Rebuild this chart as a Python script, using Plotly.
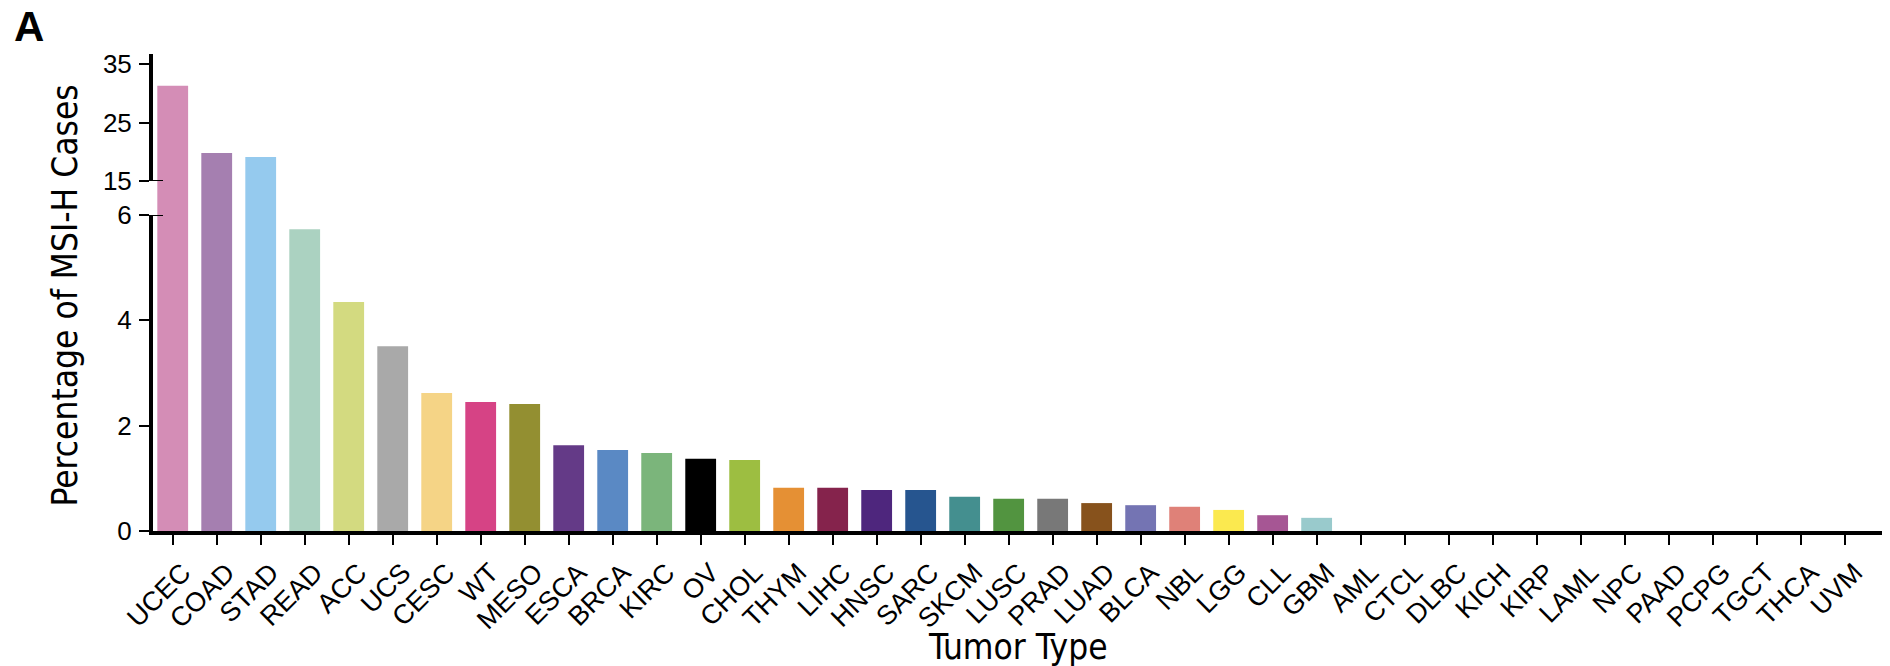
import plotly.graph_objects as go

# ---------------- data ----------------
tumor_types = ["UCEC", "COAD", "STAD", "READ", "ACC", "UCS", "CESC", "WT", "MESO",
               "ESCA", "BRCA", "KIRC", "OV", "CHOL", "THYM", "LIHC", "HNSC", "SARC",
               "SKCM", "LUSC", "PRAD", "LUAD", "BLCA", "NBL", "LGG", "CLL", "GBM",
               "AML", "CTCL", "DLBC", "KICH", "KIRP", "LAML", "NPC", "PAAD", "PCPG",
               "TGCT", "THCA", "UVM"]
msi_h_pct = [31.3, 19.8, 19.1, 5.73, 4.35, 3.51, 2.62, 2.45, 2.41,
             1.63, 1.54, 1.48, 1.37, 1.35, 0.82, 0.82, 0.78, 0.78,
             0.65, 0.61, 0.61, 0.53, 0.49, 0.46, 0.40, 0.30, 0.25,
             0, 0, 0, 0, 0, 0, 0, 0, 0, 0, 0, 0]
bar_colors = ["#D48DB6", "#A57FB0", "#95CAEE", "#ABD2C1", "#D3DA80", "#A9A9A9",
              "#F5D486", "#D64385", "#938F31", "#643A87", "#5A89C4", "#7BB57B",
              "#000000", "#9DBE41", "#E59034", "#85234C", "#4E267D", "#26558F",
              "#448F8F", "#529440", "#787878", "#87521C", "#7474B3", "#DF8178",
              "#FBE94F", "#A65694", "#99CACC"] + ["#999999"] * 12
lower_ticks = [0, 2, 4, 6]
upper_ticks = [15, 25, 35]

# ---------------- geometry ----------------
W, H = 1890, 666
L, R, T, B = 153, 8, 54, 135
plot_w = W - L - R
plot_h = H - T - B
lower_top_px = 215          # pixel y of value 6 (top of lower segment)
upper_break_px = 181        # pixel y of value 15
bottom_px = H - B           # pixel y of value 0

split = (bottom_px - lower_top_px) / plot_h
upper_line_bottom = (bottom_px - upper_break_px) / plot_h
upper_range = [9.19, 36.71]
lower_range = [0, 6]

tick_font = dict(family="Liberation Sans, Arial, sans-serif", size=26, color="black")
xtick_font = dict(family="Liberation Sans, Arial, sans-serif", size=27, color="black")
title_font = dict(family="DejaVu Sans Condensed, Liberation Sans Narrow, sans-serif",
                  size=35, color="black")

fig = go.Figure()
for yax in ["y", "y2"]:
    fig.add_trace(go.Bar(
        x=tumor_types, y=msi_h_pct, yaxis=yax,
        marker=dict(color=bar_colors, line=dict(width=0)),
        width=0.7, showlegend=False, hoverinfo="x+y"))
# carrier for the upper axis line/ticks
fig.add_trace(go.Scatter(x=[tumor_types[0]], y=[20], yaxis="y3", mode="markers",
                         marker=dict(opacity=0), showlegend=False, hoverinfo="skip"))

fig.update_layout(
    width=W, height=H,
    margin=dict(l=L, r=R, t=T, b=B, autoexpand=False),
    paper_bgcolor="white", plot_bgcolor="rgba(0,0,0,0)",
    bargap=0.3,
    xaxis=dict(type="category", range=[-0.448, 38.85], showline=True, linecolor="black",
               linewidth=4, ticks="outside", ticklen=10, tickwidth=2, tickcolor="black",
               tickangle=-45, tickfont=xtick_font, showgrid=False, zeroline=False,
               automargin=False, ticklabelshift=10, ticklabelstandoff=1),
    yaxis=dict(domain=[0, split], range=lower_range, tickvals=lower_ticks,
               showline=True, linecolor="black", linewidth=4, ticks="outside",
               ticklen=10, tickwidth=2, tickcolor="black", tickfont=tick_font,
               showgrid=False, zeroline=False, automargin=False, ticklabelstandoff=2),
    yaxis2=dict(domain=[split, 1], range=upper_range, showline=False, showticklabels=False,
                ticks="", showgrid=False, zeroline=False, anchor="x"),
    yaxis3=dict(domain=[upper_line_bottom, 1], range=[15, upper_range[1]], tickvals=upper_ticks,
                showline=True, linecolor="black", linewidth=4, ticks="outside",
                ticklen=10, tickwidth=2, tickcolor="black", tickfont=tick_font,
                showgrid=False, zeroline=False, anchor="x", automargin=False,
                ticklabelstandoff=2),
)

# inner halves of the break ticks
inner = 10 / plot_w
fig.add_shape(type="line", xref="paper", x0=0, x1=inner, yref="y3", y0=15, y1=15,
              line=dict(color="black", width=2))
fig.add_shape(type="line", xref="paper", x0=0, x1=inner, yref="y", y0=6, y1=6,
              line=dict(color="black", width=2))

# titles
fig.add_annotation(text="Tumor Type", xref="paper", yref="paper", x=0.5,
                   y=(bottom_px - 625) / plot_h, xanchor="center", yanchor="top",
                   showarrow=False, font=title_font)
fig.add_annotation(text="Percentage of MSI-H Cases", xref="paper", yref="paper",
                   x=(64 - L) / plot_w, y=(bottom_px - 295.5) / plot_h,
                   xanchor="center", yanchor="middle", textangle=-90,
                   showarrow=False, font=title_font)
fig.add_annotation(text="<b>A</b>", xref="paper", yref="paper",
                   x=(12 - L) / plot_w, y=(bottom_px - 1) / plot_h,
                   xanchor="left", yanchor="top", showarrow=False,
                   font=dict(family="Liberation Sans, Arial, sans-serif", size=42, color="black"))

fig.write_html("out.html", config={"displayModeBar": False},
               post_script="document.body.style.margin='0';")
